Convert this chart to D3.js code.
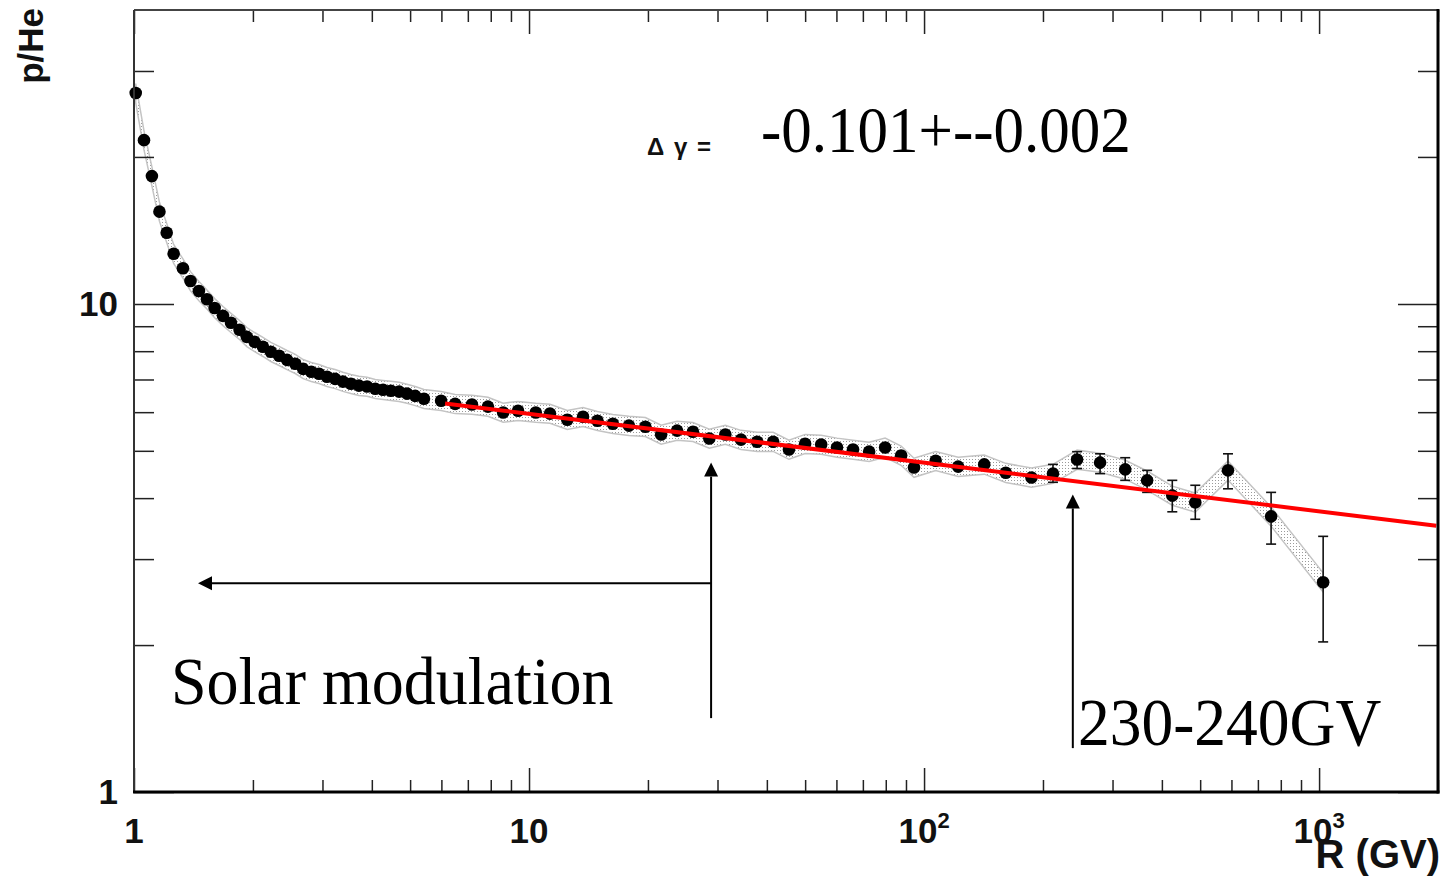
<!DOCTYPE html>
<html>
<head>
<meta charset="utf-8">
<script src="https://cdn.jsdelivr.net/npm/d3@7"></script>
<style>
  body { margin: 0; background: #fff; }
  svg { display: block; }
</style>
</head>
<body>
<div id="chart"></div>
<script>
// p/He vs rigidity
const rigidity = [1.01, 1.06, 1.11, 1.16, 1.21, 1.26, 1.33, 1.39, 1.46, 1.53,
  1.60, 1.68, 1.76, 1.85, 1.93, 2.02, 2.12, 2.22, 2.33, 2.44,
  2.56, 2.68, 2.81, 2.94, 3.08, 3.23, 3.38, 3.54, 3.71, 3.89,
  4.08, 4.27, 4.47, 4.69, 4.91, 5.15, 5.42, 5.99, 6.50, 7.17,
  7.87, 8.60, 9.38, 10.4, 11.3, 12.5, 13.7, 14.9, 16.3, 17.9,
  19.7, 21.6, 23.7, 26.0, 28.6, 31.4, 34.4, 37.8, 41.5, 45.5,
  50.0, 54.9, 60.2, 66.1, 72.6, 79.7, 87.5, 94.3, 107, 122,
  142, 161, 187, 212, 244, 279, 323, 367, 425, 486,
  588, 756, 1024];
const ratio = [27.05, 21.65, 18.27, 15.45, 13.99, 12.67, 11.83, 11.14, 10.63, 10.22,
  9.81, 9.45, 9.15, 8.85, 8.56, 8.36, 8.17, 7.98, 7.83, 7.68,
  7.54, 7.36, 7.26, 7.19, 7.09, 7.02, 6.93, 6.86, 6.80, 6.77,
  6.70, 6.67, 6.64, 6.61, 6.55, 6.48, 6.39, 6.33, 6.24, 6.22,
  6.16, 5.99, 6.04, 5.99, 5.96, 5.79, 5.87, 5.76, 5.68, 5.63,
  5.60, 5.40, 5.50, 5.47, 5.30, 5.40, 5.27, 5.22, 5.22, 5.03,
  5.17, 5.15, 5.08, 5.03, 4.98, 5.08, 4.89, 4.62, 4.77, 4.64,
  4.69, 4.51, 4.41, 4.49, 4.80, 4.73, 4.58, 4.35, 4.05, 3.92,
  4.56, 3.67, 2.69];

// error bars that stick out of the markers
const errRigidity = [212, 244, 279, 323, 367, 425, 486, 588, 756, 1024];
const errLow = [4.31, 4.60, 4.49, 4.35, 4.11, 3.75, 3.62, 4.18, 3.22, 2.03];
const errHigh = [4.69, 4.98, 4.93, 4.84, 4.56, 4.35, 4.25, 4.93, 4.11, 3.34];

// fit line end points
const fitRigidity = [6.13, 1980];
const fitRatio = [6.25, 3.51];

const xMajor = [1, 10, 100, 1000];
const xMajorText = ["1", "10", "10", "10"];
const xMajorExp = ["", "", "2", "3"];
const yMajor = [1, 10];
const yMajorText = ["1", "10"];

var sysFrac = 0.045;

var W = 1441, H = 876;
var padL = 134, padR = 1438, padT = 10, padB = 792;

var svg = d3.select("#chart")
  .append("svg")
    .attr("width", W)
    .attr("height", H);

var defs = svg.append("defs");
var pat = defs.append("pattern")
    .attr("id", "dots")
    .attr("width", 3).attr("height", 3)
    .attr("patternUnits", "userSpaceOnUse");
pat.append("rect").attr("width", 3).attr("height", 3).attr("fill", "#fff");
pat.append("rect").attr("width", 1).attr("height", 1).attr("fill", "#9a9a9a");

var x = d3.scaleLog().domain([1, 2000]).range([padL, padR]);
var y = d3.scaleLog().domain([1, 40]).range([padB, padT]);

var pts = rigidity.map(function(r, i) { return {r: r, v: ratio[i]}; });

// systematic band
var band = d3.area()
  .x(function(d) { return x(d.r); })
  .y0(function(d) { return y(d.v * (1 - sysFrac)); })
  .y1(function(d) { return y(d.v * (1 + sysFrac)); });

svg.append("path")
  .datum(pts)
  .attr("d", band)
  .attr("fill", "url(#dots)")
  .attr("stroke", "#c4c4c4")
  .attr("stroke-width", 1.5);

// error bars
var errs = errRigidity.map(function(r, i) { return {r: r, lo: errLow[i], hi: errHigh[i]}; });
var eb = svg.append("g").attr("stroke", "#111").attr("stroke-width", 1.6);
eb.selectAll("line.v").data(errs).enter().append("line")
  .attr("x1", function(d) { return x(d.r); })
  .attr("x2", function(d) { return x(d.r); })
  .attr("y1", function(d) { return y(d.lo); })
  .attr("y2", function(d) { return y(d.hi); });
eb.selectAll("line.lo").data(errs).enter().append("line")
  .attr("x1", function(d) { return x(d.r) - 5; })
  .attr("x2", function(d) { return x(d.r) + 5; })
  .attr("y1", function(d) { return y(d.lo); })
  .attr("y2", function(d) { return y(d.lo); });
eb.selectAll("line.hi").data(errs).enter().append("line")
  .attr("x1", function(d) { return x(d.r) - 5; })
  .attr("x2", function(d) { return x(d.r) + 5; })
  .attr("y1", function(d) { return y(d.hi); })
  .attr("y2", function(d) { return y(d.hi); });

// markers
svg.append("g").selectAll("circle")
  .data(pts)
  .enter()
  .append("circle")
    .attr("cx", function(d) { return x(d.r); })
    .attr("cy", function(d) { return y(d.v); })
    .attr("r", 6.3)
    .attr("fill", "#000");

// fit
svg.append("path")
  .datum(fitRigidity.map(function(r, i) { return [r, fitRatio[i]]; }))
  .attr("d", d3.line().x(function(d) { return x(d[0]); }).y(function(d) { return y(d[1]); }))
  .attr("stroke", "#ff0000")
  .attr("stroke-width", 4)
  .attr("fill", "none");

// ticks
var xMinor = [];
[1, 10, 100, 1000].forEach(function(dec) {
  for (var k = 2; k <= 9; k++) if (dec * k <= 2000) xMinor.push(dec * k);
});
var yMinor = [2, 3, 4, 5, 6, 7, 8, 9, 20, 30];

function tickAxis(axis, tr) {
  var g = svg.append("g").attr("transform", tr).call(axis);
  g.select(".domain").remove();
  g.selectAll("line").attr("stroke", "#222").attr("stroke-width", 1.5);
  return g;
}

tickAxis(d3.axisBottom(x).tickValues(xMajor).tickSizeInner(-24).tickSizeOuter(0).tickFormat(""), "translate(0," + padB + ")");
tickAxis(d3.axisBottom(x).tickValues(xMinor).tickSizeInner(-12).tickSizeOuter(0).tickFormat(""), "translate(0," + padB + ")");
tickAxis(d3.axisTop(x).tickValues(xMajor).tickSizeInner(-24).tickSizeOuter(0).tickFormat(""), "translate(0," + padT + ")");
tickAxis(d3.axisTop(x).tickValues(xMinor).tickSizeInner(-12).tickSizeOuter(0).tickFormat(""), "translate(0," + padT + ")");
tickAxis(d3.axisLeft(y).tickValues(yMajor).tickSizeInner(-40).tickSizeOuter(0).tickFormat(""), "translate(" + padL + ",0)");
tickAxis(d3.axisLeft(y).tickValues(yMinor).tickSizeInner(-20).tickSizeOuter(0).tickFormat(""), "translate(" + padL + ",0)");
tickAxis(d3.axisRight(y).tickValues(yMajor).tickSizeInner(-40).tickSizeOuter(0).tickFormat(""), "translate(" + padR + ",0)");
tickAxis(d3.axisRight(y).tickValues(yMinor).tickSizeInner(-20).tickSizeOuter(0).tickFormat(""), "translate(" + padR + ",0)");

// frame
svg.append("line").attr("x1", padL).attr("x2", padR).attr("y1", padT).attr("y2", padT)
  .attr("stroke", "#444").attr("stroke-width", 2);
svg.append("line").attr("x1", padL).attr("x2", padL).attr("y1", padT).attr("y2", padB)
  .attr("stroke", "#333").attr("stroke-width", 2);
svg.append("line").attr("x1", padR).attr("x2", padR).attr("y1", padT - 1).attr("y2", padB + 1.5)
  .attr("stroke", "#000").attr("stroke-width", 3);
svg.append("line").attr("x1", padL - 1).attr("x2", padR + 1.5).attr("y1", padB).attr("y2", padB)
  .attr("stroke", "#000").attr("stroke-width", 3);

// tick labels
var sans = "'Liberation Sans', Arial, Helvetica, sans-serif";
var serif = "'Liberation Serif', 'Times New Roman', serif";

var xl = svg.append("g")
  .attr("font-family", sans).attr("font-weight", "bold").attr("font-size", 35)
  .attr("fill", "#111").attr("text-anchor", "middle");
xMajor.forEach(function(v, i) {
  var t = xl.append("text").attr("x", x(v)).attr("y", padB + 51);
  t.append("tspan").text(xMajorText[i]);
  if (xMajorExp[i]) t.append("tspan").attr("font-size", 22).attr("dy", -15).text(xMajorExp[i]);
});

var yl = svg.append("g")
  .attr("font-family", sans).attr("font-weight", "bold").attr("font-size", 35)
  .attr("fill", "#111").attr("text-anchor", "end");
yMajor.forEach(function(v, i) {
  yl.append("text").attr("x", padL - 16).attr("y", y(v) + 12).text(yMajorText[i]);
});

svg.append("text")
  .attr("x", 1440).attr("y", 868)
  .attr("text-anchor", "end")
  .attr("font-family", sans).attr("font-weight", "bold").attr("font-size", 40)
  .attr("fill", "#111")
  .text("R (GV)");

svg.append("text")
  .attr("transform", "translate(43,8) rotate(-90)")
  .attr("text-anchor", "end")
  .attr("font-family", sans).attr("font-weight", "bold").attr("font-size", 35)
  .attr("fill", "#111")
  .text("p/He");

// annotations
svg.append("text")
  .attr("x", 647).attr("y", 155)
  .attr("font-family", sans).attr("font-weight", "bold").attr("font-size", 24)
  .attr("word-spacing", 3)
  .attr("fill", "#111")
  .text("\u0394 \u03b3 =");
svg.append("text")
  .attr("transform", "translate(761,152) scale(1,1.07)")
  .attr("font-family", serif).attr("font-size", 61)
  .attr("fill", "#000")
  .text("-0.101+--0.002");
svg.append("text")
  .attr("transform", "translate(171,704) scale(1,1.05)")
  .attr("font-family", serif).attr("font-size", 64)
  .attr("fill", "#000")
  .text("Solar modulation");
svg.append("text")
  .attr("transform", "translate(1078,745) scale(1,1.05)")
  .attr("font-family", serif).attr("font-size", 63.5)
  .attr("fill", "#000")
  .text("230-240GV");

// arrows: [r1, v1, r2, v2], head at the second end
const arrows = [
  [28.9, 1.417, 28.9, 4.73],
  [28.9, 2.676, 1.452, 2.676],
  [238, 1.23, 238, 4.07]
];
arrows.forEach(function(a) {
  var x1 = x(a[0]), y1 = y(a[1]), x2 = x(a[2]), y2 = y(a[3]);
  var ang = Math.atan2(y2 - y1, x2 - x1);
  var len = 14, hw = 7;
  var bx = x2 - len * Math.cos(ang), by = y2 - len * Math.sin(ang);
  svg.append("line")
    .attr("x1", x1).attr("y1", y1).attr("x2", bx).attr("y2", by)
    .attr("stroke", "#000").attr("stroke-width", 2);
  svg.append("path")
    .attr("d", "M" + x2 + "," + y2 +
      "L" + (bx + hw * Math.sin(ang)) + "," + (by - hw * Math.cos(ang)) +
      "L" + (bx - hw * Math.sin(ang)) + "," + (by + hw * Math.cos(ang)) + "Z")
    .attr("fill", "#000");
});
</script>
</body>
</html>
